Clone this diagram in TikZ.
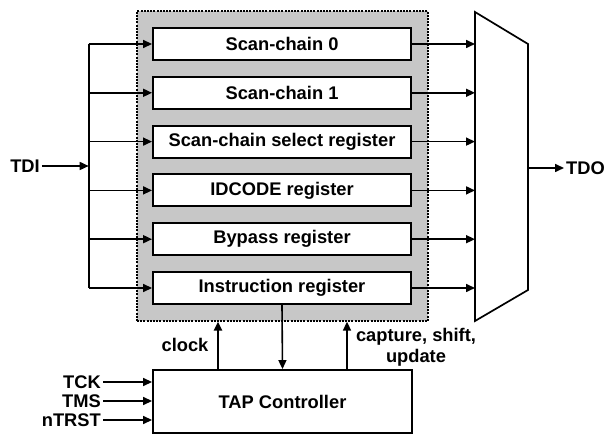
\documentclass[tikz,border=0pt]{standalone}
\usepackage{fontspec}
\setmainfont{Liberation Sans}
\usetikzlibrary{arrows.meta}
\tikzset{
  reg/.style={draw, line width=1.9pt, fill=white, minimum width=258pt, minimum height=32pt, inner sep=0pt},
  sig/.style={-{Triangle[length=9pt,width=8pt]}, line width=1.6pt},
  lbl/.style={inner sep=2pt}
}
\begin{document}
\begin{tikzpicture}[x=1pt, y=-1pt, font=\fontsize{18.3}{21}\selectfont\bfseries]
  \useasboundingbox (0,0) rectangle (611,435);
  % shaded boundary scan area
  \node[draw, line width=1.3pt, dash pattern=on 2pt off 1.2pt, fill=black!22,
        minimum width=291pt, minimum height=310pt] (scanbox) at (282.5,166) {};
  % registers
  \node[reg] (sc0) at (282,44) {Scan-chain 0};
  \node[reg] (sc1) at (282,92.8) {Scan-chain 1};
  \node[reg] (scsel) at (282,141.6) {Scan-chain select register};
  \node[reg] (idcode) at (282,190.4) {IDCODE register};
  \node[reg] (bypass) at (282,239.2) {Bypass register};
  \node[reg] (ir) at (282,288) {Instruction register};
  % TAP controller
  \node[reg, minimum width=259pt, minimum height=63pt] (tap) at (282.5,401.5) {TAP Controller};
  % multiplexer
  \coordinate (m1) at (475,12);
  \coordinate (m2) at (528,44);
  \coordinate (m3) at (528,290);
  \coordinate (m4) at (475,321);
  \draw[line width=1.7pt, line join=miter] (m1) -- (m2) -- (m3) -- (m4) -- cycle;
  % TDI bus
  \coordinate (bustop) at (88.7,44);
  \coordinate (busbot) at (88.7,288);
  \node[lbl] (tdi) at (25,166) {TDI};
  \begin{scope}[line width=1.6pt]
    \draw (bustop) -- (busbot);
    \draw[sig] (tdi) -- (tdi -| bustop);
    \draw[sig] (sc0.west -| bustop) -- (sc0.west);
    \draw[sig] (sc1.west -| bustop) -- (sc1.west);
    \draw[sig] (scsel.west -| bustop) -- (scsel.west);
    \draw[sig] (idcode.west -| bustop) -- (idcode.west);
    \draw[sig] (bypass.west -| bustop) -- (bypass.west);
    \draw[sig] (ir.west -| bustop) -- (ir.west);
  \end{scope}
  % into the multiplexer
  \draw[sig] (sc0.east) -- (sc0.east -| m1);
  \draw[sig] (sc1.east) -- (sc1.east -| m1);
  \draw[sig] (scsel.east) -- (scsel.east -| m1);
  \draw[sig] (idcode.east) -- (idcode.east -| m1);
  \draw[sig] (bypass.east) -- (bypass.east -| m1);
  \draw[sig] (ir.east) -- (ir.east -| m1);
  % TDO
  \coordinate (muxout) at (528,168);
  \node[lbl, anchor=west] (tdo) at (564,168) {TDO};
  \draw[sig] (muxout) -- (tdo.west);
  % controller signals
  \coordinate (clk) at (218,370);
  \draw[sig, line width=2.8pt] (clk) -- (clk |- scanbox.south);
  \node[lbl] (clocklbl) at (185,345) {clock};
  \draw[sig] (ir.south) -- (tap.north);
  \coordinate (ctl) at (347,370);
  \draw[sig] (ctl) -- (ctl |- scanbox.south);
  \node[lbl, align=center] (ctllbl) at (416,347) {capture, shift,\\update};
  % TAP inputs
  \node[lbl, anchor=east] (tck) at (103,382) {TCK};
  \node[lbl, anchor=east] (tms) at (103,401) {TMS};
  \node[lbl, anchor=east] (ntrst) at (103,420) {nTRST};
  \draw[sig] (tck) -- (tck -| tap.west);
  \draw[sig] (tms) -- (tms -| tap.west);
  \draw[sig] (ntrst) -- (ntrst -| tap.west);
\end{tikzpicture}
\end{document}
